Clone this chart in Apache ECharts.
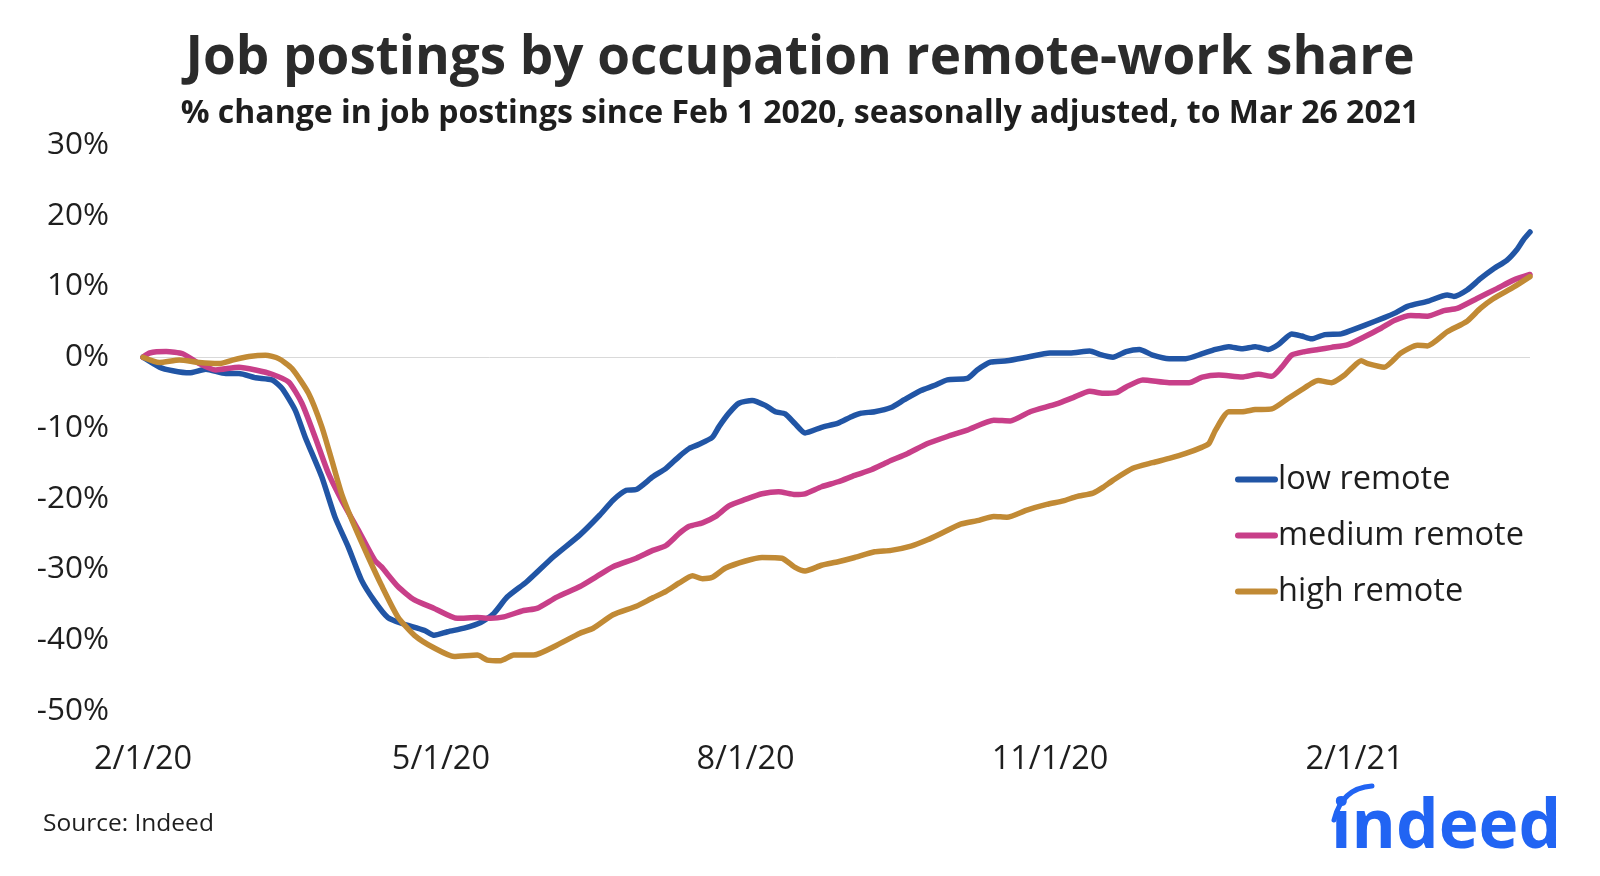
<!DOCTYPE html>
<html>
<head>
<meta charset="utf-8">
<script src="https://cdn.jsdelivr.net/npm/echarts@6/dist/echarts.min.js"></script>
<style>
html,body{margin:0;padding:0;background:#fff;}
#chart{width:1600px;height:876px;}
</style>
</head>
<body>
<div id="chart"></div>
<script>
// x values are days since Feb 1 2020
const xTickDays = [0, 90, 182, 274, 366];
const xTickLabels = ['2/1/20', '5/1/20', '8/1/20', '11/1/20', '2/1/21'];
const seriesNames = ['low remote', 'medium remote', 'high remote'];

const lowRemote = [
  [0,0],[5,-1.4],[9,-1.9],[14,-2.2],[19,-1.7],[25,-2.3],[29,-2.3],[34,-2.9],[39,-3.2],[42,-4.4],
  [46,-7.5],[49,-11.3],[54,-16.9],[58,-22.6],[62,-26.8],[66,-31.5],[70,-34.5],[74,-36.8],[78,-37.6],
  [85,-38.6],[88,-39.3],[92,-38.8],[97,-38.3],[102,-37.5],[106,-36.2],[110,-33.9],[116,-31.7],
  [124,-28.2],[132,-25.1],[138,-22.3],[142,-20.2],[146,-18.8],[149,-18.7],[154,-16.9],[158,-15.7],
  [162,-14.0],[165,-12.9],[168,-12.3],[172,-11.3],[174,-9.8],[177,-7.9],[180,-6.5],[184,-6.1],
  [188,-6.8],[191,-7.7],[194,-8.0],[197,-9.4],[200,-10.7],[205,-9.9],[210,-9.3],[214,-8.4],
  [217,-7.9],[221,-7.7],[226,-7.1],[230,-6.0],[235,-4.7],[239,-4.0],[243,-3.2],[249,-3.0],
  [252,-1.8],[256,-0.7],[261,-0.5],[267,0.0],[274,0.6],[280,0.6],[286,0.9],[289,0.4],[293,0.0],
  [297,0.8],[301,1.1],[305,0.3],[310,-0.2],[315,-0.2],[320,0.5],[324,1.1],[328,1.5],[332,1.2],
  [336,1.5],[340,1.1],[343,1.8],[347,3.3],[350,3.0],[353,2.6],[357,3.2],[362,3.3],[365,3.8],
  [369,4.5],[375,5.6],[378,6.2],[382,7.2],[388,7.9],[394,8.8],[396,8.6],[400,9.5],[404,11.1],
  [408,12.5],[412,13.7],[415,15.2],[417,16.6],[419,17.7]
];

const mediumRemote = [
  [0,0],[2,0.6],[7,0.8],[12,0.5],[17,-0.9],[22,-1.8],[29,-1.4],[34,-1.8],[39,-2.4],[44,-3.5],
  [48,-6.5],[52,-11.3],[56,-16.4],[60,-20.2],[65,-24.4],[70,-28.7],[72,-29.6],[77,-32.4],[82,-34.3],
  [88,-35.5],[95,-36.9],[101,-36.8],[105,-36.9],[109,-36.7],[115,-35.8],[119,-35.5],[125,-33.9],
  [132,-32.4],[137,-31.0],[142,-29.6],[149,-28.4],[154,-27.3],[158,-26.6],[162,-24.9],[165,-23.9],
  [169,-23.4],[173,-22.5],[177,-21.0],[182,-20.1],[187,-19.3],[192,-19.0],[197,-19.4],[200,-19.3],
  [205,-18.3],[210,-17.6],[215,-16.7],[220,-15.9],[225,-14.8],[231,-13.6],[237,-12.2],[243,-11.2],
  [249,-10.3],[257,-8.9],[262,-9.0],[268,-7.7],[276,-6.6],[281,-5.7],[286,-4.8],[290,-5.1],
  [294,-5.0],[297,-4.2],[302,-3.2],[310,-3.6],[316,-3.6],[320,-2.8],[325,-2.5],[332,-2.8],
  [337,-2.4],[341,-2.7],[344,-1.4],[347,0.3],[351,0.8],[355,1.1],[359,1.4],[364,1.8],[369,2.9],
  [374,4.1],[378,5.2],[383,5.9],[388,5.8],[393,6.6],[397,6.9],[403,8.3],[409,9.7],[414,10.9],[419,11.7]
];

const highRemote = [
  [0,0],[5,-0.75],[11,-0.4],[17,-0.75],[23,-0.9],[27,-0.4],[32,0.1],[37,0.3],[41,-0.2],[45,-1.6],
  [50,-5.1],[54,-9.8],[57,-14.5],[60,-19.3],[64,-24.0],[68,-28.2],[72,-32.2],[77,-36.7],[82,-39.3],
  [88,-41.1],[94,-42.3],[101,-42.1],[104,-42.8],[108,-42.9],[112,-42.1],[118,-42.1],[125,-40.7],
  [132,-39.0],[136,-38.3],[142,-36.4],[149,-35.2],[154,-34.0],[158,-33.1],[162,-31.9],[166,-30.9],
  [169,-31.3],[172,-31.1],[176,-29.8],[182,-28.8],[187,-28.3],[193,-28.4],[197,-29.7],[200,-30.2],
  [205,-29.4],[210,-28.9],[215,-28.3],[221,-27.5],[226,-27.3],[232,-26.7],[237,-25.8],[242,-24.7],
  [247,-23.6],[252,-23.1],[257,-22.5],[261,-22.6],[267,-21.6],[273,-20.8],[278,-20.3],[282,-19.7],
  [287,-19.2],[290,-18.4],[293,-17.4],[299,-15.7],[305,-14.9],[310,-14.3],[315,-13.6],[320,-12.7],
  [322,-12.2],[324,-10.3],[328,-7.7],[332,-7.7],[336,-7.4],[341,-7.3],[346,-5.8],[350,-4.6],
  [353,-3.7],[355,-3.3],[359,-3.6],[363,-2.5],[365,-1.6],[368,-0.5],[370,-0.9],[375,-1.4],
  [380,0.6],[385,1.7],[388,1.6],[394,3.6],[400,5.1],[404,6.9],[408,8.3],[414,9.9],[419,11.4]
];

const colors = ['#2155a5', '#c83f89', '#c18a35'];
const FONT = "'Open Sans', 'Noto Sans', sans-serif";
const capsule = 'path://M3,0 L40,0 A3,3 0 0 1 40,6 L3,6 A3,3 0 0 1 3,0 Z';

const chart = echarts.init(document.getElementById('chart'), null, {renderer: 'canvas'});
const lineSeries = (name, data, color, extra) => Object.assign({
  name: name,
  type: 'line',
  data: data,
  showSymbol: false,
  symbol: 'none',
  smooth: 0.2,
  lineStyle: {width: 5.5, color: color, cap: 'round', join: 'round'},
  itemStyle: {color: color},
  z: 3
}, extra || {});

chart.setOption({
  animation: false,
  backgroundColor: '#ffffff',
  textStyle: {fontFamily: FONT},
  title: [
    {
      text: 'Job postings by occupation remote-work share',
      left: 'center', top: 27,
      textStyle: {fontFamily: FONT, fontSize: 53, fontWeight: 'bold', color: '#2b2b2b'}
    },
    {
      text: '% change in job postings since Feb 1 2020, seasonally adjusted, to Mar 26 2021',
      left: 'center', top: 93,
      textStyle: {fontFamily: FONT, fontSize: 32, fontWeight: 'bold', color: '#1e1e1e'}
    }
  ],
  grid: {left: 143, right: 70, top: 145, bottom: 165, containLabel: false},
  legend: {
    orient: 'vertical',
    left: 1230, top: 456,
    itemWidth: 43, itemHeight: 6, itemGap: 19,
    icon: capsule,
    textStyle: {fontFamily: FONT, fontSize: 32.5, color: '#1e1e1e', lineHeight: 37, padding: [0, 0, 0, -5]},
    data: seriesNames
  },
  xAxis: {
    type: 'value',
    min: 0, max: 419,
    axisLine: {show: false},
    axisTick: {show: false},
    splitLine: {show: false},
    axisLabel: {
      customValues: xTickDays,
      formatter: v => { const i = xTickDays.indexOf(Math.round(v)); return i >= 0 ? xTickLabels[i] : ''; },
      fontFamily: FONT, fontSize: 32.5, color: '#1e1e1e', margin: 32
    }
  },
  yAxis: {
    type: 'value',
    min: -50, max: 30, interval: 10,
    axisLine: {show: false},
    axisTick: {show: false},
    splitLine: {show: false},
    axisLabel: {
      formatter: v => v + '%',
      fontFamily: FONT, fontSize: 31.5, color: '#1e1e1e', margin: 34
    }
  },
  series: [
    lineSeries(seriesNames[0], lowRemote, colors[0], {
      markLine: {
        silent: true, symbol: 'none', label: {show: false},
        lineStyle: {color: '#d9d9d9', width: 1, type: 'solid'},
        data: [{yAxis: 0}], z: 1
      }
    }),
    lineSeries(seriesNames[1], mediumRemote, colors[1]),
    lineSeries(seriesNames[2], highRemote, colors[2])
  ],
  graphic: [
    {
      type: 'text', left: 43, top: 812,
      style: {text: 'Source: Indeed', font: "24.5px 'Open Sans', sans-serif", fill: '#1e1e1e'}
    },
    {
      type: 'text', left: 1331, top: 795,
      style: {text: 'indeed', font: "bold 67.5px 'Open Sans', sans-serif", fill: '#2164f3'}
    },
    {
      type: 'bezierCurve',
      shape: {x1: 1334, y1: 820, cpx1: 1342, cpy1: 788, x2: 1372, y2: 786},
      style: {stroke: '#2164f3', lineWidth: 5, fill: null, lineCap: 'round'}
    }
  ]
});
</script>
</body>
</html>
